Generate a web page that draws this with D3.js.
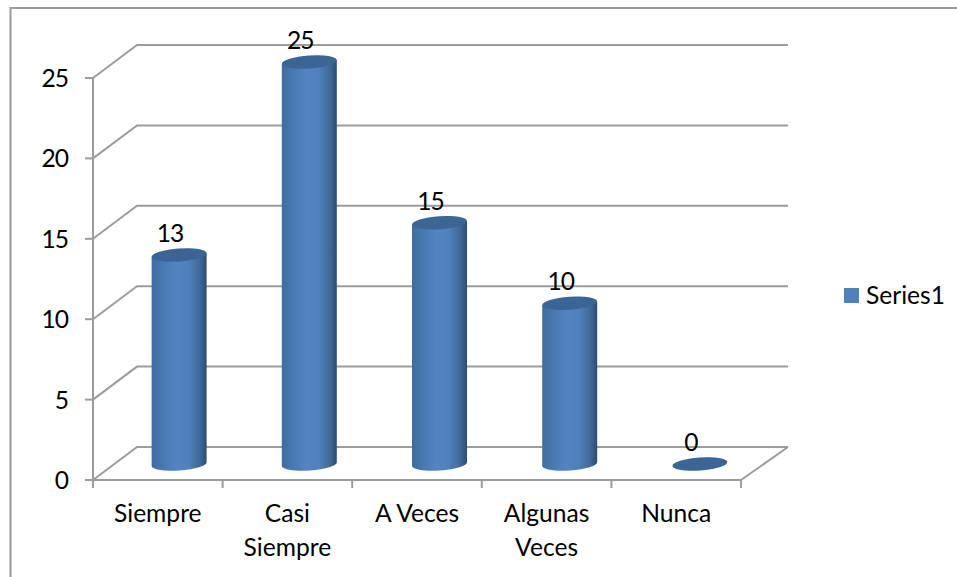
<!DOCTYPE html>
<html><head><meta charset="utf-8">
<script src="https://cdn.jsdelivr.net/npm/d3@7"></script>
<style>html,body{margin:0;background:#fff}svg{display:block}text{font-family:Lato,"Open Sans",sans-serif;fill:#000}</style>
</head><body><svg id="c" width="957" height="577"></svg>
<script>
const categories=[["Siempre"],["Casi","Siempre"],["A Veces"],["Algunas","Veces"],["Nunca"]];
const values=[13,25,15,10,0];
const ticks=[0,5,10,15,20,25];
const seriesName="Series1";

const svg=d3.select("#c");
const y=d3.scaleLinear().domain([0,25]).range([480,78]);
const x=d3.scaleBand().domain(d3.range(5)).range([93,741]);
const xBar=d3.scaleBand().domain(d3.range(5)).range([114,765]);
const dx=44,dy=-33,axis="#9c9c9c",bw=55,fs=24.6;

const defs=svg.append("defs");
const g=defs.append("linearGradient").attr("id","cyl");
[[0,"#3f6c9f"],[.15,"#4676ad"],[.45,"#5485c2"],[.68,"#4f80bb"],[.88,"#3f6896"],[1,"#2e4b70"]]
 .forEach(([o,c])=>g.append("stop").attr("offset",o).attr("stop-color",c));

// chart frame
svg.append("path").attr("d","M10.5,577V8H957").attr("fill","none").attr("stroke","#999").attr("stroke-width",2);

// back wall gridlines and side wall
const line=(p)=>svg.append("path").attr("d",d3.line()(p)).attr("fill","none").attr("stroke",axis).attr("stroke-width",2);
ticks.forEach(t=>{
  line([[93,y(t)],[93+dx,y(t)+dy],[788,y(t)+dy]]);
  line([[85,y(t)],[93,y(t)]]);
});
line([[93,y(0)],[93,y(25)]]);
line([[93,y(0)],[741,y(0)]]);
line([[741,y(0)],[788,y(0)+dy]]);
d3.range(6).forEach(i=>{const px=i<5?x(i):741;line([[px,y(0)],[px,y(0)+8]]);});

// y labels
svg.selectAll("text.yt").data(ticks).join("text").attr("class","yt")
 .attr("x",68).attr("y",d=>y(d)+9).attr("text-anchor","end").attr("font-size",fs).attr("letter-spacing",-1).text(d=>d);

// cylinders
const base=y(0)-16,k=base-y(0);
values.forEach((v,i)=>{
  const cx=xBar(i)+xBar.bandwidth()/2, top=y(v)+k, rx=bw/2, ry=6.5, rot=-4;
  const G=svg.append("g");
  if(v>0){
    G.append("path").attr("fill","url(#cyl)")
     .attr("d",`M${cx-rx},${top+2}L${cx-rx},${base+2}A${rx},${ry} ${rot} 0 0 ${cx+rx},${base-2}L${cx+rx},${top-2}Z`);
  }
  G.append("ellipse").attr("rx",rx).attr("ry",ry).attr("fill","#3b6594")
   .attr("transform",`translate(${cx},${top}) rotate(${rot})`);
  svg.append("text").attr("x",cx-9).attr("y",top-13).attr("text-anchor","middle").attr("font-size",fs).attr("letter-spacing",-1).text(v);
});

// category labels
categories.forEach((c,i)=>{
  const t=svg.append("text").attr("text-anchor","middle").attr("font-size",fs);
  c.forEach((s,j)=>t.append("tspan").attr("x",x(i)+x.bandwidth()/2).attr("y",522+j*34).text(s));
});

// legend
svg.append("rect").attr("x",844).attr("y",288).attr("width",15).attr("height",15).attr("fill","#4f81bd");
svg.append("text").attr("x",866).attr("y",303.5).attr("font-size",fs).text(seriesName);
</script></body></html>
